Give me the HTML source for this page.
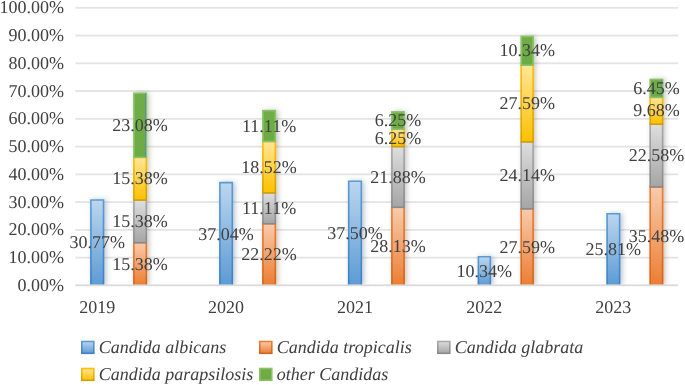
<!DOCTYPE html>
<html><head><meta charset="utf-8"><style>
html,body{margin:0;padding:0;background:#fff;width:685px;height:385px;overflow:hidden;position:relative}
svg text{font-family:'Liberation Serif', serif;font-size:18px;fill:#404040;text-rendering:geometricPrecision}
</style></head><body>
<svg width="685" height="385" viewBox="0 0 685 385" style="position:absolute;left:0;top:0;will-change:transform">
<defs>
<linearGradient id="gblue" x1="0" y1="0" x2="0" y2="1"><stop offset="0" stop-color="#bcd6ee"/><stop offset="1" stop-color="#5b9bd5"/></linearGradient>
<linearGradient id="sblue" x1="0" y1="0" x2="0" y2="1"><stop offset="0" stop-color="#5b9bd5"/><stop offset="1" stop-color="#3f80c4"/></linearGradient>
<linearGradient id="gorange" x1="0" y1="0" x2="0" y2="1"><stop offset="0" stop-color="#f8cbad"/><stop offset="1" stop-color="#ed7d31"/></linearGradient>
<linearGradient id="sorange" x1="0" y1="0" x2="0" y2="1"><stop offset="0" stop-color="#ed7d31"/><stop offset="1" stop-color="#cf651d"/></linearGradient>
<linearGradient id="ggray" x1="0" y1="0" x2="0" y2="1"><stop offset="0" stop-color="#dedede"/><stop offset="1" stop-color="#a5a5a5"/></linearGradient>
<linearGradient id="sgray" x1="0" y1="0" x2="0" y2="1"><stop offset="0" stop-color="#a8a8a8"/><stop offset="1" stop-color="#8a8a8a"/></linearGradient>
<linearGradient id="gyellow" x1="0" y1="0" x2="0" y2="1"><stop offset="0" stop-color="#ffe699"/><stop offset="1" stop-color="#ffc000"/></linearGradient>
<linearGradient id="syellow" x1="0" y1="0" x2="0" y2="1"><stop offset="0" stop-color="#ffc000"/><stop offset="1" stop-color="#d2a000"/></linearGradient>
<linearGradient id="ggreen" x1="0" y1="0" x2="0" y2="1"><stop offset="0" stop-color="#70ad47"/><stop offset="1" stop-color="#6cab44"/></linearGradient>
<linearGradient id="sgreen" x1="0" y1="0" x2="0" y2="1"><stop offset="0" stop-color="#8cc168"/><stop offset="1" stop-color="#8cc168"/></linearGradient>
<filter id="sh" x="-1" y="-1" width="3" height="3"><feGaussianBlur stdDeviation="2.6"/></filter>
<clipPath id="cp"><rect x="0" y="0" width="685" height="285.40"/></clipPath>
</defs>
<rect x="75.3" y="256.74" width="602.7" height="1.8" fill="#e4e4e4"/>
<rect x="75.3" y="228.98" width="602.7" height="1.8" fill="#e4e4e4"/>
<rect x="75.3" y="201.22" width="602.7" height="1.8" fill="#e4e4e4"/>
<rect x="75.3" y="173.46" width="602.7" height="1.8" fill="#e4e4e4"/>
<rect x="75.3" y="145.70" width="602.7" height="1.8" fill="#e4e4e4"/>
<rect x="75.3" y="117.94" width="602.7" height="1.8" fill="#e4e4e4"/>
<rect x="75.3" y="90.18" width="602.7" height="1.8" fill="#e4e4e4"/>
<rect x="75.3" y="62.42" width="602.7" height="1.8" fill="#e4e4e4"/>
<rect x="75.3" y="34.66" width="602.7" height="1.8" fill="#e4e4e4"/>
<rect x="75.3" y="6.90" width="602.7" height="1.8" fill="#e4e4e4"/>
<text x="64" y="290.90" text-anchor="end">0.00%</text>
<text x="64" y="263.14" text-anchor="end">10.00%</text>
<text x="64" y="235.38" text-anchor="end">20.00%</text>
<text x="64" y="207.62" text-anchor="end">30.00%</text>
<text x="64" y="179.86" text-anchor="end">40.00%</text>
<text x="64" y="152.10" text-anchor="end">50.00%</text>
<text x="64" y="124.34" text-anchor="end">60.00%</text>
<text x="64" y="96.58" text-anchor="end">70.00%</text>
<text x="64" y="68.82" text-anchor="end">80.00%</text>
<text x="64" y="41.06" text-anchor="end">90.00%</text>
<text x="64" y="13.30" text-anchor="end">100.00%</text>
<g clip-path="url(#cp)"><rect x="92.10" y="199.48" width="14.20" height="85.92" fill="#1f3f60" fill-opacity="0.3" filter="url(#sh)"/><rect x="135.10" y="242.21" width="14.00" height="43.19" fill="#6a3510" fill-opacity="0.3" filter="url(#sh)"/><rect x="135.10" y="199.51" width="14.00" height="43.19" fill="#454545" fill-opacity="0.3" filter="url(#sh)"/><rect x="135.10" y="156.82" width="14.00" height="43.19" fill="#6a5000" fill-opacity="0.3" filter="url(#sh)"/><rect x="135.10" y="92.75" width="14.00" height="64.57" fill="#30501c" fill-opacity="0.3" filter="url(#sh)"/><rect x="221.10" y="182.08" width="14.00" height="103.32" fill="#1f3f60" fill-opacity="0.3" filter="url(#sh)"/><rect x="264.10" y="223.22" width="14.00" height="62.18" fill="#6a3510" fill-opacity="0.3" filter="url(#sh)"/><rect x="264.10" y="192.38" width="14.00" height="31.34" fill="#454545" fill-opacity="0.3" filter="url(#sh)"/><rect x="264.10" y="140.96" width="14.00" height="51.91" fill="#6a5000" fill-opacity="0.3" filter="url(#sh)"/><rect x="264.10" y="110.12" width="14.00" height="31.34" fill="#30501c" fill-opacity="0.3" filter="url(#sh)"/><rect x="349.90" y="180.80" width="14.20" height="104.60" fill="#1f3f60" fill-opacity="0.3" filter="url(#sh)"/><rect x="393.10" y="206.81" width="13.80" height="78.59" fill="#6a3510" fill-opacity="0.3" filter="url(#sh)"/><rect x="393.10" y="146.07" width="13.80" height="61.24" fill="#454545" fill-opacity="0.3" filter="url(#sh)"/><rect x="393.10" y="128.72" width="13.80" height="17.85" fill="#6a5000" fill-opacity="0.3" filter="url(#sh)"/><rect x="393.10" y="111.37" width="13.80" height="17.85" fill="#30501c" fill-opacity="0.3" filter="url(#sh)"/><rect x="479.60" y="256.20" width="13.50" height="29.20" fill="#1f3f60" fill-opacity="0.3" filter="url(#sh)"/><rect x="522.40" y="208.31" width="13.50" height="77.09" fill="#6a3510" fill-opacity="0.3" filter="url(#sh)"/><rect x="522.40" y="141.30" width="13.50" height="67.51" fill="#454545" fill-opacity="0.3" filter="url(#sh)"/><rect x="522.40" y="64.71" width="13.50" height="77.09" fill="#6a5000" fill-opacity="0.3" filter="url(#sh)"/><rect x="522.40" y="36.00" width="13.50" height="29.20" fill="#30501c" fill-opacity="0.3" filter="url(#sh)"/><rect x="608.30" y="213.25" width="14.10" height="72.15" fill="#1f3f60" fill-opacity="0.3" filter="url(#sh)"/><rect x="651.40" y="186.41" width="14.00" height="98.99" fill="#6a3510" fill-opacity="0.3" filter="url(#sh)"/><rect x="651.40" y="123.73" width="14.00" height="63.18" fill="#454545" fill-opacity="0.3" filter="url(#sh)"/><rect x="651.40" y="96.85" width="14.00" height="27.37" fill="#6a5000" fill-opacity="0.3" filter="url(#sh)"/><rect x="651.40" y="78.95" width="14.00" height="18.41" fill="#30501c" fill-opacity="0.3" filter="url(#sh)"/></g>
<rect x="90.90" y="199.98" width="12.60" height="85.42" fill="url(#gblue)"/>
<path d="M90.90 285.40V199.98H103.50V285.40" fill="none" stroke="url(#sblue)" stroke-width="1.6"/>
<rect x="133.90" y="242.71" width="12.40" height="42.69" fill="url(#gorange)"/>
<path d="M133.90 285.40V242.71H146.30V285.40" fill="none" stroke="url(#sorange)" stroke-width="1.6"/>
<rect x="133.90" y="200.01" width="12.40" height="42.69" fill="url(#ggray)" stroke="url(#sgray)" stroke-width="1.6"/>
<rect x="133.90" y="157.32" width="12.40" height="42.69" fill="url(#gyellow)" stroke="url(#syellow)" stroke-width="1.6"/>
<rect x="133.90" y="93.25" width="12.40" height="64.07" fill="url(#ggreen)" stroke="url(#sgreen)" stroke-width="1.6"/>
<rect x="219.90" y="182.58" width="12.40" height="102.82" fill="url(#gblue)"/>
<path d="M219.90 285.40V182.58H232.30V285.40" fill="none" stroke="url(#sblue)" stroke-width="1.6"/>
<rect x="262.90" y="223.72" width="12.40" height="61.68" fill="url(#gorange)"/>
<path d="M262.90 285.40V223.72H275.30V285.40" fill="none" stroke="url(#sorange)" stroke-width="1.6"/>
<rect x="262.90" y="192.88" width="12.40" height="30.84" fill="url(#ggray)" stroke="url(#sgray)" stroke-width="1.6"/>
<rect x="262.90" y="141.46" width="12.40" height="51.41" fill="url(#gyellow)" stroke="url(#syellow)" stroke-width="1.6"/>
<rect x="262.90" y="110.62" width="12.40" height="30.84" fill="url(#ggreen)" stroke="url(#sgreen)" stroke-width="1.6"/>
<rect x="348.70" y="181.30" width="12.60" height="104.10" fill="url(#gblue)"/>
<path d="M348.70 285.40V181.30H361.30V285.40" fill="none" stroke="url(#sblue)" stroke-width="1.6"/>
<rect x="391.90" y="207.31" width="12.20" height="78.09" fill="url(#gorange)"/>
<path d="M391.90 285.40V207.31H404.10V285.40" fill="none" stroke="url(#sorange)" stroke-width="1.6"/>
<rect x="391.90" y="146.57" width="12.20" height="60.74" fill="url(#ggray)" stroke="url(#sgray)" stroke-width="1.6"/>
<rect x="391.90" y="129.22" width="12.20" height="17.35" fill="url(#gyellow)" stroke="url(#syellow)" stroke-width="1.6"/>
<rect x="391.90" y="111.87" width="12.20" height="17.35" fill="url(#ggreen)" stroke="url(#sgreen)" stroke-width="1.6"/>
<rect x="478.40" y="256.70" width="11.90" height="28.70" fill="url(#gblue)"/>
<path d="M478.40 285.40V256.70H490.30V285.40" fill="none" stroke="url(#sblue)" stroke-width="1.6"/>
<rect x="521.20" y="208.81" width="11.90" height="76.59" fill="url(#gorange)"/>
<path d="M521.20 285.40V208.81H533.10V285.40" fill="none" stroke="url(#sorange)" stroke-width="1.6"/>
<rect x="521.20" y="141.80" width="11.90" height="67.01" fill="url(#ggray)" stroke="url(#sgray)" stroke-width="1.6"/>
<rect x="521.20" y="65.21" width="11.90" height="76.59" fill="url(#gyellow)" stroke="url(#syellow)" stroke-width="1.6"/>
<rect x="521.20" y="36.50" width="11.90" height="28.70" fill="url(#ggreen)" stroke="url(#sgreen)" stroke-width="1.6"/>
<rect x="607.10" y="213.75" width="12.50" height="71.65" fill="url(#gblue)"/>
<path d="M607.10 285.40V213.75H619.60V285.40" fill="none" stroke="url(#sblue)" stroke-width="1.6"/>
<rect x="650.20" y="186.91" width="12.40" height="98.49" fill="url(#gorange)"/>
<path d="M650.20 285.40V186.91H662.60V285.40" fill="none" stroke="url(#sorange)" stroke-width="1.6"/>
<rect x="650.20" y="124.23" width="12.40" height="62.68" fill="url(#ggray)" stroke="url(#sgray)" stroke-width="1.6"/>
<rect x="650.20" y="97.35" width="12.40" height="26.87" fill="url(#gyellow)" stroke="url(#syellow)" stroke-width="1.6"/>
<rect x="650.20" y="79.45" width="12.40" height="17.91" fill="url(#ggreen)" stroke="url(#sgreen)" stroke-width="1.6"/>
<rect x="75.3" y="284.40" width="602.7" height="1.8" fill="#dadada"/>
<rect x="145.00" y="93.55" width="0.9" height="63.27" fill="#4f86b5" fill-opacity="0.85"/>
<rect x="661.30" y="79.75" width="0.9" height="17.11" fill="#4f86b5" fill-opacity="0.85"/>
<text x="97.20" y="248.29" text-anchor="middle">30.77%</text>
<text x="140.10" y="269.65" text-anchor="middle">15.38%</text>
<text x="140.10" y="226.96" text-anchor="middle">15.38%</text>
<text x="140.10" y="184.26" text-anchor="middle">15.38%</text>
<text x="140.10" y="130.88" text-anchor="middle">23.08%</text>
<text x="226.10" y="239.59" text-anchor="middle">37.04%</text>
<text x="269.10" y="260.16" text-anchor="middle">22.22%</text>
<text x="269.10" y="213.90" text-anchor="middle">11.11%</text>
<text x="269.10" y="172.77" text-anchor="middle">18.52%</text>
<text x="269.10" y="131.64" text-anchor="middle">11.11%</text>
<text x="355.00" y="238.95" text-anchor="middle">37.50%</text>
<text x="398.00" y="251.96" text-anchor="middle">28.13%</text>
<text x="398.00" y="182.54" text-anchor="middle">21.88%</text>
<text x="398.00" y="143.50" text-anchor="middle">6.25%</text>
<text x="398.00" y="126.15" text-anchor="middle">6.25%</text>
<text x="484.35" y="276.65" text-anchor="middle">10.34%</text>
<text x="527.15" y="252.71" text-anchor="middle">27.59%</text>
<text x="527.15" y="180.90" text-anchor="middle">24.14%</text>
<text x="527.15" y="109.10" text-anchor="middle">27.59%</text>
<text x="527.15" y="56.46" text-anchor="middle">10.34%</text>
<text x="613.35" y="255.18" text-anchor="middle">25.81%</text>
<text x="656.40" y="241.75" text-anchor="middle">35.48%</text>
<text x="656.40" y="161.17" text-anchor="middle">22.58%</text>
<text x="656.40" y="116.39" text-anchor="middle">9.68%</text>
<text x="656.40" y="94.00" text-anchor="middle">6.45%</text>
<text x="97.20" y="313" text-anchor="middle">2019</text>
<text x="226.10" y="313" text-anchor="middle">2020</text>
<text x="355.00" y="313" text-anchor="middle">2021</text>
<text x="484.35" y="313" text-anchor="middle">2022</text>
<text x="613.35" y="313" text-anchor="middle">2023</text>
<rect x="81.80" y="341.50" width="12.00" height="11.80" fill="url(#gblue)" stroke="url(#sblue)" stroke-width="1.6"/>
<text x="98.80" y="353.3" font-style="italic" font-size="17.8">Candida albicans</text>
<rect x="259.80" y="341.50" width="12.00" height="11.80" fill="url(#gorange)" stroke="url(#sorange)" stroke-width="1.6"/>
<text x="276.80" y="353.3" font-style="italic" font-size="17.8">Candida tropicalis</text>
<rect x="437.80" y="341.50" width="12.00" height="11.80" fill="url(#ggray)" stroke="url(#sgray)" stroke-width="1.6"/>
<text x="454.80" y="353.3" font-style="italic" font-size="17.8">Candida glabrata</text>
<rect x="81.80" y="368.50" width="12.00" height="11.80" fill="url(#gyellow)" stroke="url(#syellow)" stroke-width="1.6"/>
<text x="98.80" y="380.3" font-style="italic" font-size="17.8">Candida parapsilosis</text>
<rect x="259.80" y="368.50" width="12.00" height="11.80" fill="url(#ggreen)" stroke="url(#sgreen)" stroke-width="1.6"/>
<text x="276.80" y="380.3" font-style="italic" font-size="17.8">other Candidas</text>
</svg>
</body></html>
